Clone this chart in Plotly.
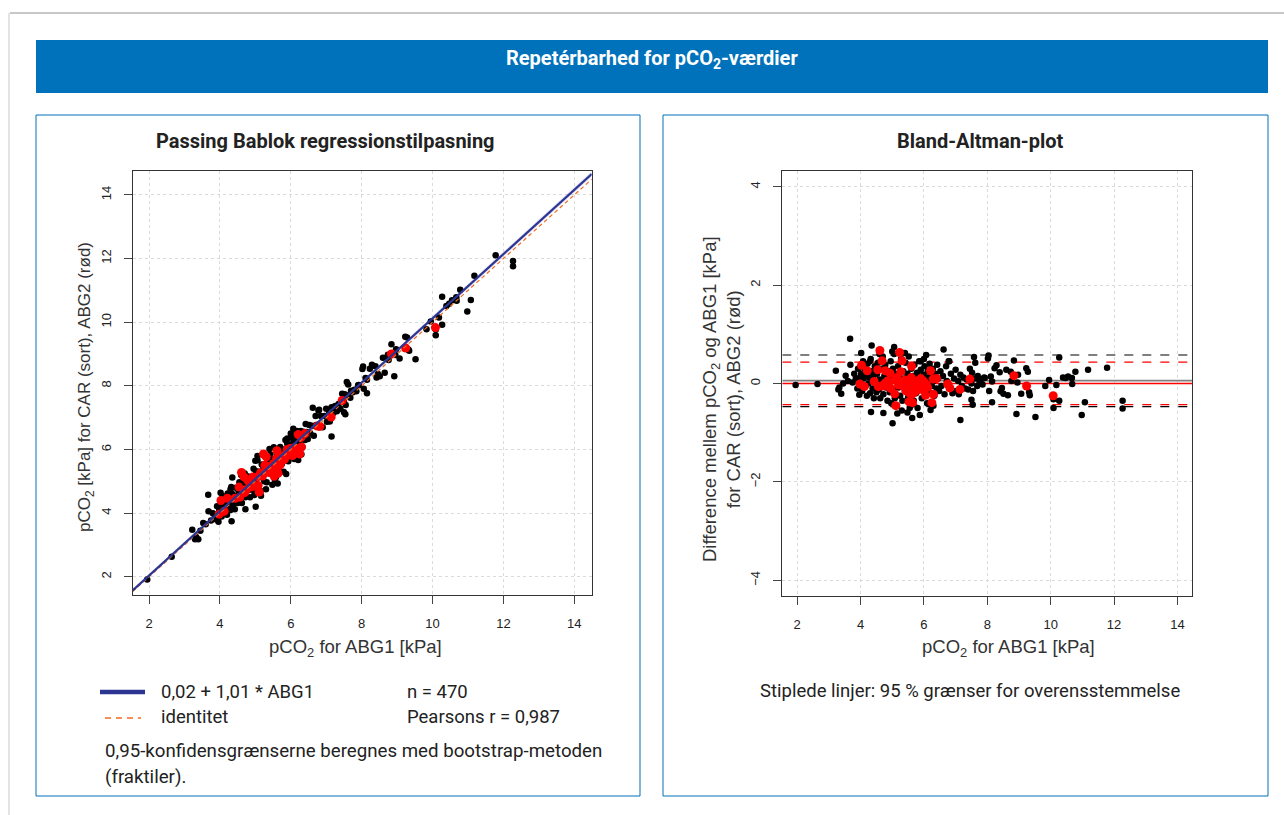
import plotly.graph_objects as go

W, H = 1284, 815

# ---------------- data ----------------
# Black points: ABG1 value and difference CAR - ABG1
abg1_black = [
    1.95, 2.64, 3.22, 3.30, 3.33, 3.39, 3.45, 3.53, 3.67, 3.68, 3.60, 3.75, 3.80, 3.85, 3.90, 3.92, 3.96, 3.98,
    4.02, 4.35, 4.33, 4.72, 5.01, 5.06, 5.16, 5.48, 5.87, 6.21, 6.07, 6.62, 7.15, 7.58, 7.54, 7.50, 5.00, 5.40,
    5.63, 5.55, 6.00, 4.60, 4.30, 5.30, 6.30, 6.80, 5.90,
    4.02, 4.05, 4.08, 4.10, 4.12, 4.15, 4.18, 4.20, 4.22, 4.25, 4.28, 4.30, 4.32, 4.35, 4.38, 4.40, 4.42, 4.45, 4.48, 4.50,
    4.52, 4.55, 4.58, 4.60, 4.62, 4.65, 4.68, 4.70, 4.72, 4.75, 4.78, 4.80, 4.82, 4.85, 4.88, 4.90, 4.92, 4.95, 4.97, 4.99,
    5.02, 5.04, 5.06, 5.08, 5.10, 5.12, 5.15, 5.18, 5.20, 5.22, 5.25, 5.28, 5.30, 5.32, 5.35, 5.38, 5.40, 5.42, 5.45, 5.48,
    5.50, 5.52, 5.55, 5.58, 5.60, 5.62, 5.65, 5.68, 5.70, 5.72, 5.75, 5.78, 5.80, 5.82, 5.85, 5.88, 5.90, 5.93, 5.95, 5.98,
    6.02, 6.05, 6.08, 6.10, 6.12, 6.15, 6.18, 6.20, 6.22, 6.25, 6.28, 6.30, 6.33, 6.36, 6.40, 6.42, 6.45, 6.48,
    6.52, 6.55, 6.60, 6.65, 6.70, 6.72, 6.78, 6.80, 6.85, 6.90, 6.95, 7.00, 7.02, 7.08, 7.10, 7.15, 7.20, 7.25, 7.30,
    7.35, 7.40, 7.45, 7.50, 7.52, 7.55, 7.60, 7.62, 7.68, 7.70, 7.75, 7.80, 7.85, 7.90,
    8.04, 8.02, 7.92, 8.11, 8.15, 8.06, 8.15, 8.29, 8.23, 8.39, 8.60, 8.74, 8.84, 8.97, 8.76, 8.95, 9.23, 9.28,
    8.46, 8.42, 8.51, 8.65, 9.07, 9.32, 9.34, 8.92, 9.52, 9.95, 9.83, 10.18, 10.27, 10.09, 10.27, 10.09, 10.39,
    10.55, 10.67, 10.68, 10.47, 10.78, 11.18, 11.78, 10.98, 11.08, 12.27, 12.27,
]
diff_black = [
    -0.03, -0.01, 0.26, -0.12, -0.08, -0.21, 0.00, 0.16, 0.91, 0.38, 0.05, 0.02, 0.20, 0.10, -0.10, 0.30, -0.23, 0.12,
    0.62, 0.77, -0.58, -0.60, -0.81, 0.74, -0.61, -0.59, -0.64, -0.54, 0.58, 0.69, -0.74, 0.54, -0.43, -0.33, 0.65, 0.62,
    -0.70, -0.50, 0.50, 0.60, 0.45, -0.55, -0.45, 0.45, 0.45,
    0.20, -0.15, 0.45, 0.10, 0.30, -0.05, 0.18, -0.25, 0.40, 0.00, 0.12, -0.20, 0.50, 0.25, -0.10, 0.15, -0.30, 0.35, 0.05, -0.18,
    0.20, 0.42, -0.12, 0.08, -0.30, 0.30, 0.00, 0.55, -0.22, 0.15, 0.38, -0.08, 0.10, -0.35, 0.25, 0.02, -0.18, 0.45, -0.40, 0.12,
    0.30, -0.12, 0.60, -0.30, 0.20, 0.05, -0.45, 0.35, -0.08, 0.15, -0.25, 0.50, 0.00, -0.35, 0.25, 0.10, -0.15, 0.42, -0.05, 0.20,
    -0.28, 0.55, 0.05, -0.45, 0.30, -0.12, 0.15, -0.35, 0.38, 0.00, -0.20, 0.22, -0.50, 0.10, 0.45, -0.08, 0.28, -0.30, 0.05, 0.18,
    0.35, -0.15, 0.12, -0.40, 0.25, 0.00, 0.40, -0.20, 0.15, -0.05, 0.30, 0.05, -0.25, 0.20, -0.10, 0.38, 0.10, -0.15,
    0.25, -0.05, 0.15, -0.22, 0.35, 0.05, 0.45, -0.10, 0.20, -0.20, 0.10, 0.28, -0.15, 0.05, -0.22, 0.18, -0.05, 0.12, -0.10,
    0.08, -0.12, 0.30, 0.00, 0.22, -0.15, 0.10, 0.42, -0.05, 0.15, 0.05, 0.08, -0.02, 0.12,
    0.57, 0.51, 0.11, 0.14, 0.04, -0.15, -0.38, 0.37, 0.31, 0.23, 0.28, 0.24, 0.47, 0.18, 0.05, 0.02, 0.31, 0.24,
    -0.09, -0.16, -0.21, -0.24, -0.21, -0.18, -0.24, -0.62, -0.68, 0.07, -0.05, -0.03, 0.53, -0.32, -0.35, -0.50, 0.12,
    0.14, 0.11, -0.01, 0.11, 0.24, 0.28, 0.32, -0.64, -0.38, -0.35, -0.51,
]
# Red points: ABG1 value and difference ABG2 - ABG1
abg1_red = [
    4.61, 5.23, 4.68, 5.31, 4.03, 4.21, 4.54, 4.78, 4.93, 5.27, 5.61, 6.21, 3.98, 4.12, 4.43, 4.56, 5.08, 5.20,
    5.40, 5.56, 5.72, 5.85, 5.98, 6.08, 6.29, 5.82, 5.43, 5.08, 5.61, 6.05, 6.30, 5.53, 5.64, 6.25, 5.11, 6.75,
    6.82, 7.14, 7.45, 4.75, 4.88, 5.90, 5.45, 5.50, 5.55, 5.60, 5.65, 5.70, 5.75, 5.78, 5.95, 6.00, 6.12, 5.35,
    5.25, 5.15, 4.85, 4.70, 4.95, 6.40, 8.84, 9.24, 10.08,
]
diff_red = [
    0.67, 0.63, 0.46, 0.46, 0.37, 0.26, 0.28, 0.26, 0.21, 0.24, 0.35, 0.26, -0.01, -0.06, 0.04, -0.06, 0.07, -0.03,
    0.07, 0.01, -0.03, -0.01, 0.05, -0.03, 0.09, -0.13, -0.15, -0.21, -0.23, -0.24, -0.22, -0.37, -0.39, -0.39, -0.45, -0.01,
    -0.09, -0.12, 0.09, -0.01, -0.05, 0.10, -0.10, 0.05, -0.20, 0.12, -0.05, -0.18, 0.05, -0.10, -0.12, 0.02, -0.08, -0.05,
    0.00, 0.12, 0.05, -0.05, -0.10, 0.10, 0.16, -0.05, -0.25,
]
car_black = [a + d for a, d in zip(abg1_black, diff_black)]
abg2_red = [a + d for a, d in zip(abg1_red, diff_red)]

fit_intercept, fit_slope = 0.02, 1.01
ci_intercept = [-0.01, 0.05]
ci_slope = [1.006, 1.014]
mean_black, loa_black = 0.06, [0.58, -0.47]
mean_red, loa_red = 0.0, [0.435, -0.43]

pb_xrange = [1.54, 14.49]
pb_yrange = [1.43, 14.75]
ba_xrange = [1.53, 14.47]
ba_yrange = [-4.32, 4.32]
pb_ticks = [2, 4, 6, 8, 10, 12, 14]
ba_yticks = [-4, -2, 0, 2, 4]

# ---------------- helpers ----------------
def px(x):
    return x / W


def py(y):
    return 1 - y / H


BLUE = "#0071bb"
NAVY = "#2c3592"
ORANGE = "#f26b21"
RED = "#ff0000"
TICKF = dict(family="Liberation Sans, Arial, sans-serif", size=13, color="#222222")
TEXTF = "Roboto, Liberation Sans, sans-serif"
BOLDF = "Roboto, Liberation Sans, sans-serif"

fig = go.Figure()

# ---- Passing-Bablok panel ----
xb = pb_xrange
band_lo = [ci_intercept[0] + ci_slope[0] * v for v in xb]
band_hi = [ci_intercept[1] + ci_slope[1] * v for v in xb]
fig.add_trace(go.Scatter(x=xb + xb[::-1], y=band_lo + band_hi[::-1], fill="toself",
                         fillcolor="rgba(170,160,220,0.30)", line=dict(width=0),
                         mode="lines", hoverinfo="skip", xaxis="x", yaxis="y"))
fig.add_trace(go.Scatter(x=abg1_black, y=car_black, mode="markers",
                         marker=dict(color="black", size=6.5), xaxis="x", yaxis="y"))
fig.add_trace(go.Scatter(x=abg1_red, y=abg2_red, mode="markers",
                         marker=dict(color=RED, size=9), xaxis="x", yaxis="y"))
fig.add_trace(go.Scatter(x=xb, y=xb, mode="lines",
                         line=dict(color=ORANGE, width=1.2, dash="4px,3px"), xaxis="x", yaxis="y"))
fig.add_trace(go.Scatter(x=xb, y=[fit_intercept + fit_slope * v for v in xb], mode="lines",
                         line=dict(color=NAVY, width=2.2), xaxis="x", yaxis="y"))

# ---- Bland-Altman panel ----
xr = ba_xrange
for yv, col, dash, wd in [
    (loa_black[0], "black", "dash", 1.1), (loa_black[1], "black", "dash", 1.1),
    (loa_red[0], RED, "dash", 1.1), (loa_red[1], RED, "dash", 1.1),
    (mean_black, "#808080", "solid", 1.8), (mean_red, RED, "solid", 1.3),
]:
    fig.add_trace(go.Scatter(x=xr, y=[yv, yv], mode="lines",
                             line=dict(color=col, width=wd, dash=dash), xaxis="x2", yaxis="y2"))
fig.add_trace(go.Scatter(x=abg1_black, y=diff_black, mode="markers",
                         marker=dict(color="black", size=6.5), xaxis="x2", yaxis="y2"))
fig.add_trace(go.Scatter(x=abg1_red, y=diff_red, mode="markers",
                         marker=dict(color=RED, size=9), xaxis="x2", yaxis="y2"))

axis_common = dict(showline=True, linecolor="#333333", linewidth=1, mirror=True,
                   ticks="outside", ticklen=8, tickcolor="#444444", tickfont=TICKF,
                   showgrid=True, gridcolor="#dadada", griddash="dot", gridwidth=1,
                   zeroline=False, fixedrange=True)

fig.update_layout(
    width=W, height=H, margin=dict(l=0, r=0, t=0, b=0),
    paper_bgcolor="white", plot_bgcolor="white", showlegend=False,
    xaxis=dict(domain=[px(132.7), px(591.7)], range=pb_xrange, tickvals=pb_ticks,
               anchor="y", ticklabelstandoff=8, **axis_common),
    yaxis=dict(domain=[py(595), py(171)], range=pb_yrange, tickvals=pb_ticks,
               anchor="x", tickangle=-90, ticklabelstandoff=8, **axis_common),
    xaxis2=dict(domain=[px(782.3), px(1192.3)], range=ba_xrange, tickvals=pb_ticks,
                anchor="y2", ticklabelstandoff=8, **axis_common),
    yaxis2=dict(domain=[py(596), py(171)], range=ba_yrange, tickvals=ba_yticks,
                anchor="x2", tickangle=-90, ticklabelstandoff=8, **axis_common),
)

shapes = [
    dict(type="line", x0=px(10), x1=1, y0=py(13), y1=py(13), line=dict(color="#b5b5b5", width=1.5)),
    dict(type="line", x0=px(9), x1=px(9), y0=py(13), y1=0, line=dict(color="#c8c8c8", width=1)),
    dict(type="rect", x0=px(36), x1=px(1268), y0=py(93), y1=py(40), fillcolor=BLUE, line=dict(width=0)),
    dict(type="rect", x0=px(36), x1=px(640), y0=py(796), y1=py(115), line=dict(color=BLUE, width=1)),
    dict(type="rect", x0=px(663), x1=px(1268), y0=py(796), y1=py(115), line=dict(color=BLUE, width=1)),
    dict(type="line", x0=px(100), x1=px(145), y0=py(692), y1=py(692), line=dict(color=NAVY, width=4.5)),
    dict(type="line", x0=px(105), x1=px(141), y0=py(718), y1=py(718), line=dict(color=ORANGE, width=1.5, dash="6px,5px")),
]
for s in shapes:
    s.update(xref="paper", yref="paper")
fig.update_layout(shapes=shapes)


def ann(text, x, y, size, family=TEXTF, color="#222222", xanchor="center", yanchor="middle", angle=0, bold=False):
    if bold:
        text = "<b>" + text + "</b>"
    fig.add_annotation(text=text, x=px(x), y=py(y), xref="paper", yref="paper", showarrow=False,
                       xanchor=xanchor, yanchor=yanchor, textangle=angle,
                       font=dict(family=family, size=size, color=color))


ann("Repetérbarhed for pCO<sub>2</sub>-værdier", 652, 59, 20, family=BOLDF, color="white", bold=True)
ann("Passing Bablok regressionstilpasning", 326, 141, 20, family=BOLDF, bold=True)
ann("Bland-Altman-plot", 981, 141, 20, family=BOLDF, bold=True)

AXF = "Liberation Sans, Arial, sans-serif"
ann("pCO<sub>2</sub> for ABG1 [kPa]", 355, 648, 18.5, family=AXF, color="#333333")
ann("pCO<sub>2</sub> for ABG1 [kPa]", 1008, 648, 18.5, family=AXF, color="#333333")
ann("pCO<sub>2</sub> [kPa] for CAR (sort), ABG2 (rød)", 86, 387, 17, family=AXF, color="#333333", angle=-90)
ann("Difference mellem pCO<sub>2</sub> og ABG1 [kPa]<br>for CAR (sort), ABG2 (rød)", 721, 399, 18.5,
    family=AXF, color="#333333", angle=-90)

ann("0,02 + 1,01 * ABG1", 159, 692, 18.5, xanchor="left")
ann("n = 470", 405, 692, 18.5, xanchor="left")
ann("identitet", 159, 717, 18.5, xanchor="left")
ann("Pearsons r = 0,987", 405, 717, 18.5, xanchor="left")
ann("0,95-konfidensgrænserne beregnes med bootstrap-metoden", 103, 751, 18.7, xanchor="left")
ann("(fraktiler).", 103, 777, 18.7, xanchor="left")
ann("Stiplede linjer: 95 % grænser for overensstemmelse", 970, 691, 18.5)

fig.write_html("out.html", config={"displayModeBar": False},
               post_script="document.body.style.margin='0px';")
